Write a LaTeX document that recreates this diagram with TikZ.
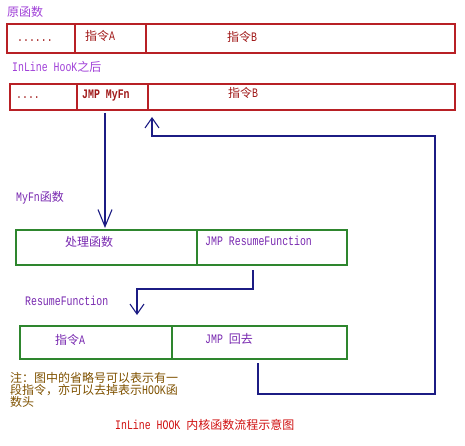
\documentclass[tikz,border=0pt]{standalone}
\usepackage{fontspec}
\setmainfont{Liberation Mono}[FakeStretch=0.76]
\newfontfamily\cjk{Noto Sans CJK SC}[Scale=0.923]
\newcommand{\zh}[1]{{\cjk #1}}
\usetikzlibrary{arrows.meta}
\definecolor{boxred}{HTML}{B82025}
\definecolor{txtred}{HTML}{A01818}
\definecolor{caprd}{HTML}{D01010}
\definecolor{lblpur}{HTML}{A040D8}
\definecolor{txtpur}{HTML}{7828B0}
\definecolor{boxgrn}{HTML}{2E862E}
\definecolor{navy}{HTML}{1C1C84}
\definecolor{brown}{HTML}{7F5200}
\begin{document}
\begin{tikzpicture}[x=1pt,y=-1pt,
  font=\fontsize{13}{12}\selectfont,
  redcell/.style={draw=boxred, line width=1.1pt, anchor=north west, inner sep=0pt, outer sep=0pt},
  grncell/.style={draw=boxgrn, line width=1.1pt, anchor=north west, inner sep=0pt, outer sep=0pt},
  txt/.style={anchor=west, inner sep=0pt},
  flow/.style={draw=navy, line width=1.1pt, -{Straight Barb[length=10pt,width=14pt,line width=1.1pt]}},
]
\useasboundingbox[fill=white] (0,0) rectangle (465,446);

% labels
\node[txt, text=lblpur] (l1) at (7,12) {\zh{原函数}};
\node[txt, text=lblpur] (l2) at (12,67) {InLine HooK\zh{之后}};
\node[txt, text=txtpur] (l3) at (16,198) {MyFn\zh{函数}};
\node[txt, text=txtpur] (l4) at (25,301) {ResumeFunction};

% box 1
\node[redcell, minimum width=68pt, minimum height=29pt] (a1) at (7,24) {};
\node[redcell, minimum width=71pt, minimum height=29pt] (a2) at (75,24) {};
\node[redcell, minimum width=309pt, minimum height=29pt] (a3) at (146,24) {};
\node[txt, text=txtred] (ta1) at (17,41) {......};
\node[txt, text=txtred] (ta2) at (85,36) {\zh{指令}A};
\node[txt, text=txtred] (ta3) at (227,37) {\zh{指令}B};

% box 2
\node[redcell, minimum width=67pt, minimum height=26pt] (b1) at (10,84) {};
\node[redcell, minimum width=71pt, minimum height=26pt] (b2) at (77,84) {};
\node[redcell, minimum width=307pt, minimum height=26pt] (b3) at (148,84) {};
\node[txt, text=txtred] (tb1) at (16,98) {....};
\node[txt, text=txtred] (tb2) at (82,96) {\textbf{JMP MyFn}};
\node[txt, text=txtred] (tb3) at (228,93) {\zh{指令}B};

% box 3
\node[grncell, minimum width=181pt, minimum height=35pt] (c1) at (16,230) {};
\node[grncell, minimum width=150pt, minimum height=35pt] (c2) at (197,230) {};
\node[txt, text=txtpur] (tc1) at (65,242) {\zh{处理函数}};
\node[txt, text=txtpur] (tc2) at (205,241) {JMP ResumeFunction};

% box 4
\node[grncell, minimum width=152pt, minimum height=33pt] (d1) at (20,326) {};
\node[grncell, minimum width=175pt, minimum height=33pt] (d2) at (172,326) {};
\node[txt, text=txtpur] (td1) at (55,340) {\zh{指令}A};
\node[txt, text=txtpur] (td2) at (205,339) {JMP \zh{回去}};

% note and caption
\node[anchor=north west, inner sep=0pt, align=left, text=brown] (note) at (10,372)
  {\zh{注：图中的省略号可以表示有一}\\\zh{段指令，亦可以去掉表示}HOOK\zh{函}\\\zh{数头}};
\node[txt, text=caprd] (cap) at (115,425) {InLine HOOK \zh{内核函数流程示意图}};

% connectors
\coordinate (s1) at (105,113);
\draw[flow, -{Straight Barb[length=17pt,width=14pt,line width=1.1pt]}, shorten >=2pt] (s1) -- (s1 |- c1.north);

\coordinate (t0) at (253,270);
\coordinate (t1) at (137,289);
\draw[flow, shorten >=11pt] (t0) |- (t1) -- (t1 |- d1.north);

\coordinate (r0) at (258,363);
\coordinate (r1) at (435,394);
\coordinate (r2) at (152,136);
\draw[flow, shorten >=7pt] (r0) |- (r1) |- (r2) -- (r2 |- b3.south);
\end{tikzpicture}
\end{document}
